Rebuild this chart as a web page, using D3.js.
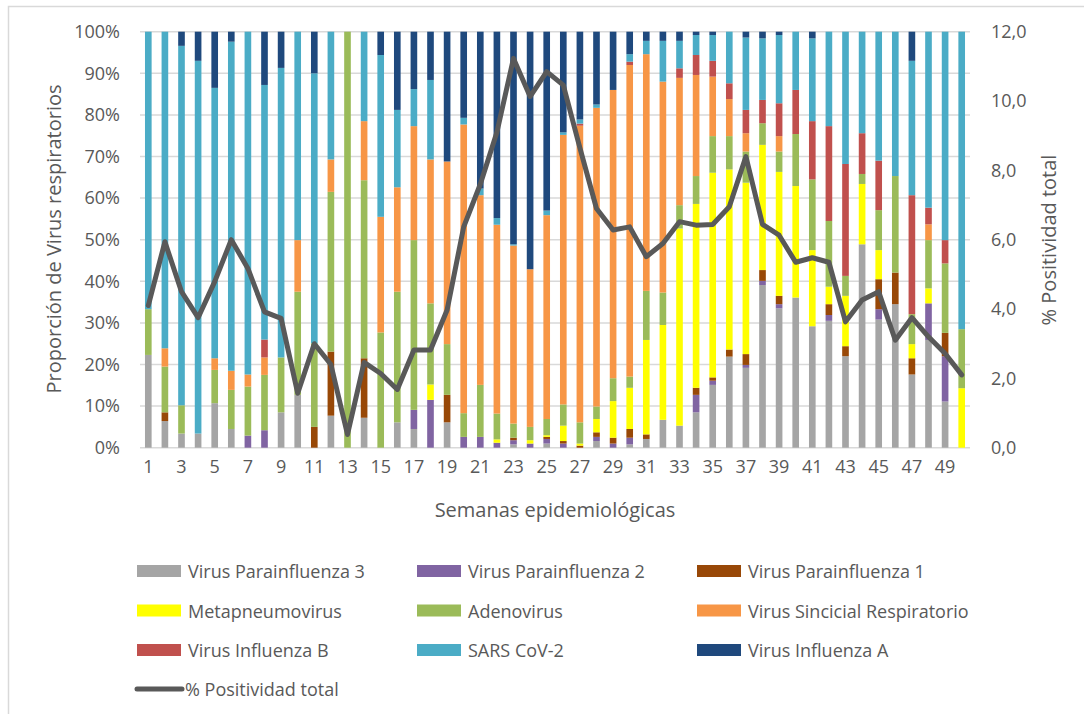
<!DOCTYPE html>
<html>
<head>
<meta charset="utf-8">
<script src="https://cdn.jsdelivr.net/npm/d3@7"></script>
<style>
    body { margin: 0; background: #fff; }
    svg text { font-family: "Open Sans", "Noto Sans", sans-serif; fill: #595959; }
</style>
</head>
<body>
<svg id="chart" width="1084" height="714"></svg>
<script>
// semanas epidemiologicas 1..50
var weeks = d3.range(1, 51);

// proporcion (%) de cada virus por semana
var parainfluenza3 = [22.3, 6.4, 3.4, 3.4, 10.7, 4.5, 0, 0, 8.5, 12.7,
    0, 7.7, 0, 7.2, 0, 6.1, 4.5, 0, 6.1, 0,
    0, 0, 0.8, 0, 1.0, 0, 0, 1.6, 0, 0.8,
    2.1, 6.7, 5.3, 8.5, 15.1, 21.9, 19.2, 39.1, 33.5, 36.1,
    29.2, 30.5, 22.0, 48.9, 30.8, 34.5, 17.6, 25.9, 11.1, 0];
var parainfluenza2 = [0, 0, 0, 0, 0, 0, 2.9, 4.2, 0, 0,
    0, 0, 0, 0, 0, 0, 4.6, 11.5, 0, 2.6,
    2.6, 1.2, 1.0, 1.0, 1.1, 1.0, 0, 1.0, 1.0, 1.6,
    0, 0, 0, 4.2, 1.0, 0, 0.7, 1.0, 1.0, 0,
    0, 1.4, 0, 0, 2.5, 0, 0, 8.8, 10.9, 0];
var parainfluenza1 = [0, 2.1, 0, 0, 0, 0, 0, 0, 0, 0,
    5.0, 15.4, 0, 14.3, 0, 0, 0, 0, 6.6, 0,
    0, 0, 0.6, 0, 0.5, 0.6, 0.5, 1.1, 1.4, 2.1,
    1.1, 0, 0, 1.7, 0.8, 1.7, 2.6, 2.6, 2.0, 0,
    0, 2.6, 2.4, 0, 7.2, 7.6, 3.9, 0, 5.6, 0];
var metapneumovirus = [0, 0, 0, 0, 0, 0, 0, 0, 0, 0,
    0, 0, 0, 0, 0, 0, 0, 3.7, 0, 0,
    0, 0.8, 0, 0.8, 0.4, 3.7, 0.5, 3.2, 8.8, 9.9,
    22.7, 22.8, 47.4, 44.2, 49.2, 43.3, 41.2, 30.1, 29.8, 26.8,
    18.3, 4.2, 12.1, 14.5, 7.0, 0, 3.4, 3.6, 0, 14.3];
var adenovirus = [11.0, 11.0, 6.8, 0, 8.0, 9.4, 11.8, 13.3, 13.2, 24.8,
    20.1, 38.4, 100, 42.8, 27.7, 31.4, 40.8, 19.5, 12.2, 5.7,
    12.5, 6.2, 3.4, 3.2, 3.9, 5.1, 5.1, 3.0, 5.5, 2.7,
    11.8, 7.8, 5.6, 6.7, 8.8, 8.0, 7.5, 5.2, 4.9, 12.5,
    17.0, 15.8, 4.8, 2.4, 9.6, 23.2, 7.2, 11.6, 16.7, 14.2];
var sincicial = [0, 4.4, 0, 0, 2.8, 4.6, 2.9, 4.2, 0, 12.4,
    0, 7.8, 0, 14.2, 27.8, 25.1, 27.4, 34.6, 43.9, 69.4,
    45.6, 45.4, 42.8, 37.9, 49.0, 64.8, 71.3, 71.8, 69.3, 74.9,
    56.9, 50.7, 30.6, 24.3, 14.3, 8.9, 4.4, 0, 3.7, 0,
    0, 0, 0, 0, 0, 0, 0, 3.8, 0, 0];
var influenzaB = [0, 0, 0, 0, 0, 0, 0, 4.3, 0, 0,
    0, 0, 0, 0, 0, 0, 0, 0, 0, 0,
    0, 0, 0, 0, 0, 0, 0.5, 0, 0, 0.8,
    0, 0, 2.3, 4.8, 3.8, 3.8, 5.6, 5.6, 7.9, 10.6,
    14.0, 22.8, 26.9, 9.8, 11.9, 0, 28.6, 4.0, 5.6, 0];
var sarsCov2 = [66.7, 76.1, 86.4, 89.6, 65.0, 79.1, 82.4, 61.2, 69.6, 50.1,
    64.9, 30.7, 0, 21.5, 38.9, 18.6, 8.9, 19.1, 0, 1.6,
    1.6, 1.6, 0.3, 0, 1.1, 0.6, 1.0, 0.8, 0, 1.8,
    3.2, 9.8, 6.6, 4.8, 6.2, 12.4, 17.4, 14.8, 16.4, 14.0,
    19.9, 22.7, 31.8, 24.4, 31.0, 34.7, 32.3, 42.3, 50.1, 71.5];
var influenzaA = [0, 0, 3.4, 7.0, 13.5, 2.4, 0, 12.8, 8.7, 0,
    10.0, 0, 0, 0, 5.6, 18.8, 13.8, 11.6, 31.2, 20.7,
    37.7, 44.8, 51.1, 57.1, 43.0, 24.2, 21.1, 17.5, 14.0, 5.4,
    2.2, 2.2, 2.2, 0.8, 0.8, 0, 1.4, 1.6, 0.8, 0,
    1.6, 0, 0, 0, 0, 0, 7.0, 0, 0, 0];

// % positividad total (eje derecho)
var positividad = [4.1, 5.94, 4.5, 3.75, 4.79, 6.0, 5.17, 3.92, 3.73, 1.57,
    3.0, 2.4, 0.38, 2.46, 2.14, 1.68, 2.82, 2.82, 3.97, 6.37,
    7.6, 9.1, 11.23, 10.13, 10.85, 10.46, 8.65, 6.9, 6.28, 6.37,
    5.51, 5.89, 6.52, 6.42, 6.44, 6.95, 8.4, 6.44, 6.13, 5.35,
    5.48, 5.35, 3.63, 4.26, 4.5, 3.1, 3.75, 3.2, 2.72, 2.1];

var seriesNames = ["Virus Parainfluenza 3", "Virus Parainfluenza 2", "Virus Parainfluenza 1",
    "Metapneumovirus", "Adenovirus", "Virus Sincicial Respiratorio",
    "Virus Influenza B", "SARS CoV-2", "Virus Influenza A"];
var seriesValues = [parainfluenza3, parainfluenza2, parainfluenza1, metapneumovirus,
    adenovirus, sincicial, influenzaB, sarsCov2, influenzaA];
var seriesColors = ["#a5a5a5", "#8064a2", "#984807", "#ffff00", "#9bbb59",
    "#f79646", "#c0504d", "#4bacc6", "#1f497d"];

var leftTicks = d3.range(0, 1.01, 0.1);
var rightTicks = [0, 2, 4, 6, 8, 10, 12];
var lineName = "% Positividad total";

var svg = d3.select("#chart");
// area de trazado (window.top es de solo lectura, por eso otros nombres)
var plotLeft = 140, plotRight = 970, plotTop = 31.7, plotBottom = 447.7;
var textColor = "#595959", gridColor = "#d9d9d9";

// borde del area del grafico
svg.append("path")
    .attr("d", "M8.5,714V6.5H1084")
    .attr("fill", "none")
    .attr("stroke", gridColor)
    .attr("stroke-width", 1.5);

var rows = weeks.map(function (w, i) {
    var r = { week: w };
    seriesNames.forEach(function (name, j) { r[name] = seriesValues[j][i]; });
    return r;
});

var stacked = d3.stack()
    .keys(seriesNames)
    .offset(d3.stackOffsetExpand)(rows);

var x = d3.scaleBand()
    .domain(weeks)
    .range([plotLeft, plotRight])
    .paddingInner(0.6)
    .paddingOuter(0.3);
var y = d3.scaleLinear().domain([0, 1]).range([plotBottom, plotTop]);
var y2 = d3.scaleLinear().domain([0, 12]).range([plotBottom, plotTop]);

// lineas de cuadricula
svg.append("g")
    .selectAll("line")
    .data(leftTicks)
    .join("line")
    .attr("x1", plotLeft)
    .attr("x2", plotRight)
    .attr("y1", function (d) { return y(d); })
    .attr("y2", function (d) { return y(d); })
    .attr("stroke", gridColor)
    .attr("stroke-width", 1.5);

// barras apiladas
svg.append("g")
    .selectAll("g")
    .data(stacked)
    .join("g")
    .attr("fill", function (d, i) { return seriesColors[i]; })
    .selectAll("rect")
    .data(function (d) { return d; })
    .join("rect")
    .attr("x", function (d) { return x(d.data.week); })
    .attr("width", x.bandwidth())
    .attr("y", function (d) { return y(d[1]); })
    .attr("height", function (d) { return Math.max(0, y(d[0]) - y(d[1])); });

// linea de positividad
var line = d3.line()
    .x(function (d, i) { return x(weeks[i]) + x.bandwidth() / 2; })
    .y(function (d) { return y2(d); });

svg.append("path")
    .datum(positividad)
    .attr("d", line)
    .attr("fill", "none")
    .attr("stroke", "#595959")
    .attr("stroke-width", 5)
    .attr("stroke-linejoin", "round")
    .attr("stroke-linecap", "round");

// ejes
var fontSize = "18px", titleSize = "20px";

var yAxis = d3.axisLeft(y).tickValues(leftTicks).tickSize(0).tickPadding(20)
    .tickFormat(d3.format(".0%"));
var gy = svg.append("g").attr("transform", "translate(" + plotLeft + ",0)").call(yAxis);

var y2Axis = d3.axisRight(y2).tickValues(rightTicks).tickSize(0).tickPadding(21)
    .tickFormat(function (d) { return d3.format(".1f")(d).replace(".", ","); });
var gy2 = svg.append("g").attr("transform", "translate(" + plotRight + ",0)").call(y2Axis);

var xAxis = d3.axisBottom(x).tickSize(0).tickPadding(13)
    .tickFormat(function (d) { return d % 2 === 1 ? d : ""; });
var gx = svg.append("g").attr("transform", "translate(0," + plotBottom + ")").call(xAxis);

[gy, gy2, gx].forEach(function (g) {
    g.select(".domain").remove();
    g.selectAll("text")
        .attr("font-family", null)
        .style("font-size", fontSize)
        .style("fill", textColor);
});

// titulos de ejes
svg.append("text")
    .attr("transform", "translate(53,239) rotate(-90)")
    .attr("text-anchor", "middle")
    .attr("dominant-baseline", "central")
    .style("font-size", titleSize)
    .text("Proporción de Virus respiratorios");

svg.append("text")
    .attr("transform", "translate(1048,240) rotate(-90)")
    .attr("text-anchor", "middle")
    .attr("dominant-baseline", "central")
    .style("font-size", titleSize)
    .text("% Positividad total");

svg.append("text")
    .attr("x", (plotLeft + plotRight) / 2)
    .attr("y", 509)
    .attr("text-anchor", "middle")
    .attr("dominant-baseline", "central")
    .style("font-size", titleSize)
    .text("Semanas epidemiológicas");

// leyenda
var colX = [137, 417, 697];
var rowY = [571, 610.5, 650];

var legend = svg.append("g")
    .selectAll("g")
    .data(seriesNames)
    .join("g")
    .attr("transform", function (d, i) {
        return "translate(" + colX[i % 3] + "," + rowY[Math.floor(i / 3)] + ")";
    });

legend.append("rect")
    .attr("x", 0)
    .attr("y", -6)
    .attr("width", 44)
    .attr("height", 12)
    .attr("fill", function (d, i) { return seriesColors[i]; });

legend.append("text")
    .attr("x", 51)
    .attr("dominant-baseline", "central")
    .style("font-size", fontSize)
    .text(function (d) { return d; });

var lineLegend = svg.append("g").attr("transform", "translate(137,689)");
lineLegend.append("line")
    .attr("x1", 0)
    .attr("x2", 45)
    .attr("stroke", "#595959")
    .attr("stroke-width", 5)
    .attr("stroke-linecap", "round");
lineLegend.append("text")
    .attr("x", 48)
    .attr("dominant-baseline", "central")
    .style("font-size", fontSize)
    .text(lineName);
</script>
</body>
</html>
